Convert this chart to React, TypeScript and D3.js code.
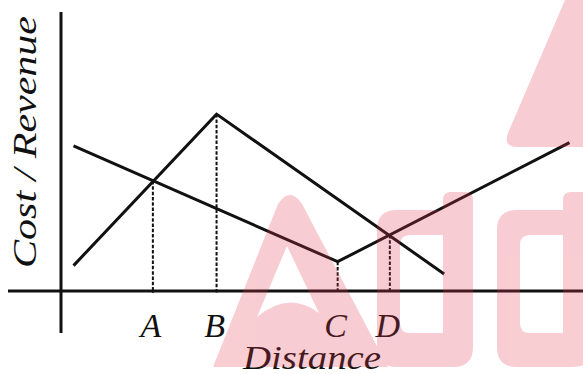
import React from "react";
import * as d3 from "d3";

// ---- data (arbitrary units) ----
const costX = [2.4, 53.0, 97.4];
const costY = [52.0, 10.5, 53.2];
const revenueX = [2.4, 29.8, 73.4];
const revenueY = [9.1, 63.4, 6.1];
const guideLabels = ["A", "B", "C", "D"];
const guideX = [17.6, 29.8, 53.0, 63.0];
const guideY = [39.4, 63.4, 10.5, 20.1];
const xTitle = "Distance";
const yTitle = "Cost / Revenue";

const W = 583;
const H = 374;

export default function App() {
  const x = d3.scaleLinear().domain([0, 100]).range([61, 583]);
  const y = d3.scaleLinear().domain([0, 100]).range([291, 12]);
  const line = d3
    .line<[number, number]>()
    .x((d) => x(d[0]))
    .y((d) => y(d[1]));
  const cost = costX.map((v, i) => [v, costY[i]] as [number, number]);
  const revenue = revenueX.map((v, i) => [v, revenueY[i]] as [number, number]);
  const textStyle: React.CSSProperties = {
    fontFamily: '"Liberation Serif", "DejaVu Serif", serif',
    fontStyle: "italic",
    fontSize: "34px",
  };

  const dShape = (x0: number) => {
    const iL = x0 + 23;
    const iR = x0 + 66;
    const sL = iR;
    const sR = x0 + 96;
    const yb = 210, ys = 192, yB = 367, r = 20;
    const outer = `M${x0},${yb + r} Q${x0},${yb} ${x0 + r},${yb} L${sL},${yb} L${sL},${ys + 8} Q${sL},${ys} ${sL + 8},${ys} L${sR - 8},${ys} Q${sR},${ys} ${sR},${ys + 8} L${sR},${yB - r} Q${sR},${yB} ${sR - r},${yB} L${x0 + r},${yB} Q${x0},${yB} ${x0},${yB - r} Z`;
    const inner = `M${iL + 10},235 L${iR},235 L${iR},333 L${iL + 10},333 Q${iL},333 ${iL},323 L${iL},245 Q${iL},235 ${iL + 10},235 Z`;
    return outer + " " + inner;
  };

  return (
    <svg
      width={W}
      height={H}
      style={{ position: "absolute", left: 0, top: 0, background: "#fff" }}
    >
      <rect x={0} y={0} width={W} height={H} fill="#fff" />
      {/* axes */}
      <line x1={8} x2={583} y1={y(0)} y2={y(0)} stroke="#111" strokeWidth={3} />
      <line x1={x(0)} x2={x(0)} y1={12} y2={333} stroke="#111" strokeWidth={3} />
      {/* guides */}
      {guideX.map((gx, i) => (
        <line
          key={"g" + i}
          x1={x(gx)}
          x2={x(gx)}
          y1={y(guideY[i])}
          y2={y(0) + 2}
          stroke="#111"
          strokeWidth={2}
          strokeDasharray="3.5 1.8"
        />
      ))}
      {/* curves */}
      <path d={line(cost) || ""} fill="none" stroke="#111" strokeWidth={3} strokeLinejoin="miter" />
      <path d={line(revenue) || ""} fill="none" stroke="#111" strokeWidth={3} strokeLinejoin="miter" />
      {/* point labels */}
      {guideLabels.map((lab, i) => (
        <text
          key={"l" + i}
          x={x(guideX[i]) - 2}
          y={337}
          textAnchor="middle"
          style={textStyle}
          fill="#111"
        >
          {lab}
        </text>
      ))}
      <text
        x={243}
        y={369}
        textLength={138}
        lengthAdjust="spacingAndGlyphs"
        style={textStyle}
        fill="#111"
      >
        {xTitle}
      </text>
      <text
        transform={`translate(36,${268}) rotate(-90)`}
        x={0}
        y={0}
        textLength={252}
        lengthAdjust="spacingAndGlyphs"
        style={textStyle}
        fill="#111"
      >
        {yTitle}
      </text>
      {/* watermark */}
      <g fill="#e23a50" opacity={0.25}>
        <path d="M565,0 L583,0 L583,147 L518,147 Q503,147 508,133 Z" />
        <path
          fillRule="evenodd"
          d="M213,367 L278,204 Q290,186 302,204 L388,367 Z M287,246 L319,313 Q289,290 257,317 Z"
        />
        <path fillRule="evenodd" d={dShape(377)} />
        <path fillRule="evenodd" d={dShape(497)} />
      </g>
    </svg>
  );
}
